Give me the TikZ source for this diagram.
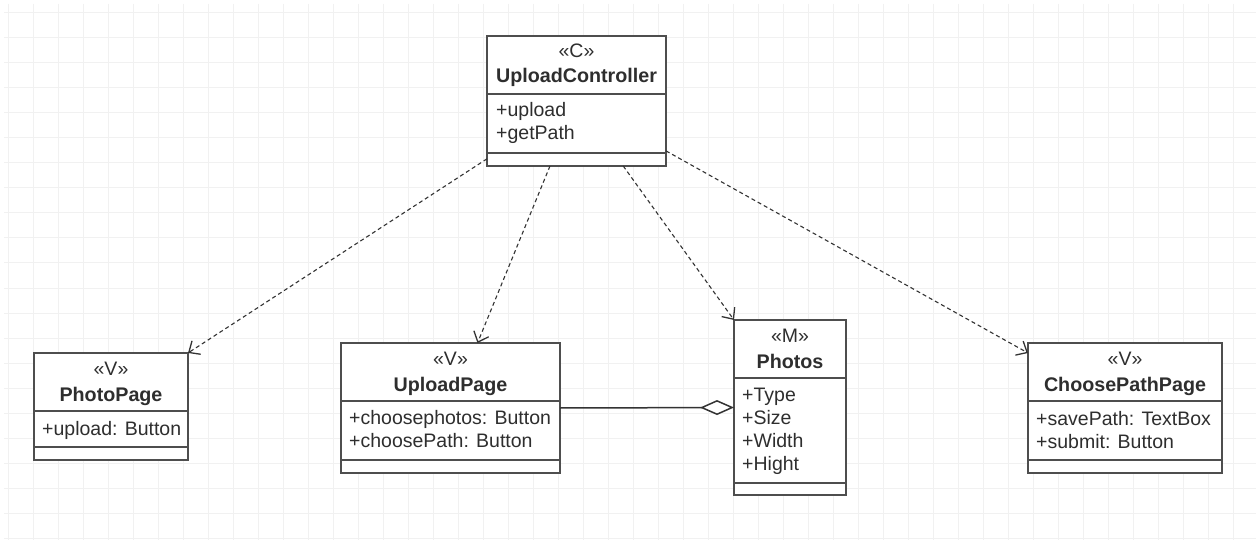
\documentclass[tikz,border=0pt]{standalone}
\usepackage{fontspec}
\setmainfont{Liberation Sans}
\usetikzlibrary{arrows.meta}
\definecolor{boxline}{HTML}{4E4E4E}
\definecolor{txt}{HTML}{2E2E2E}
\definecolor{gridc}{HTML}{F1F1F1}
\definecolor{depc}{HTML}{333333}
\tikzset{
  classbox/.style={draw=boxline, fill=white, line width=2pt, inner sep=0pt, outer sep=0pt},
  sepline/.style={draw=boxline, line width=2pt},
  stereo/.style={anchor=base, inner sep=0pt, text=txt, font=\fontsize{19.5pt}{23pt}\selectfont},
  cname/.style={anchor=base, inner sep=0pt, text=txt, font=\fontsize{19.7pt}{23pt}\selectfont\bfseries},
  attr/.style={anchor=base west, inner sep=0pt, text=txt, font=\fontsize{19.5pt}{23pt}\selectfont},
  dep/.style={draw=depc, line width=1.1pt, dash pattern=on 4pt off 3pt, -{Straight Barb[length=9pt,width=16pt,line width=1.3pt]}},
  agg/.style={draw=depc, line width=1.5pt, {Diamond[length=34pt,width=15pt,fill=white,line width=1.5pt]}-},
  gridline/.style={draw=gridc, line width=1pt}
}
\begin{document}
\begin{tikzpicture}[x=1pt,y=-1pt]
\useasboundingbox (0,0) rectangle (1256,540);
\fill[white] (0,0) rectangle (1256,540);
% grid
\foreach \gx in {8,33,...,1258} {\draw[gridline] (\gx,4) -- (\gx,540);}
\foreach \gy in {13,38,...,540} {\draw[gridline] (4,\gy) -- (1256,\gy);}

% UploadController
\node[classbox, minimum width=179pt, minimum height=130pt] (uc) at (576.5,101) {};
\draw[sepline] (487,94) -- (666,94);
\draw[sepline] (487,153) -- (666,153);
\node[stereo] (ucs) at (576.5,58) {«C»};
\node[cname] (ucn) at (576.5,83) {UploadController};
\node[attr] (uca1) at (496,117) {+upload};
\node[attr] (uca2) at (496,140) {+getPath};

% PhotoPage
\node[classbox, minimum width=154pt, minimum height=107pt] (pp) at (111,406.5) {};
\draw[sepline] (34,411) -- (188,411);
\draw[sepline] (34,447) -- (188,447);
\node[stereo] (pps) at (111,375) {«V»};
\node[cname] (ppn) at (111,401) {PhotoPage};
\node[attr] (ppa1) at (42,435) {+upload: Button};

% UploadPage
\node[classbox, minimum width=219pt, minimum height=130pt] (up) at (450.5,408) {};
\draw[sepline] (341,401) -- (560,401);
\draw[sepline] (341,460) -- (560,460);
\node[stereo] (ups) at (450.5,365) {«V»};
\node[cname] (upn) at (450.5,391) {UploadPage};
\node[attr] (upa1) at (349,424) {+choosephotos: Button};
\node[attr] (upa2) at (349,447) {+choosePath: Button};

% Photos
\node[classbox, minimum width=112pt, minimum height=175pt] (ph) at (790,407.5) {};
\draw[sepline] (734,378) -- (846,378);
\draw[sepline] (734,483) -- (846,483);
\node[stereo] (phs) at (790,342) {«M»};
\node[cname] (phn) at (790,368) {Photos};
\node[attr] (pha1) at (742,401) {+Type};
\node[attr] (pha2) at (742,424) {+Size};
\node[attr] (pha3) at (742,447) {+Width};
\node[attr] (pha4) at (742,470) {+Hight};

% ChoosePathPage
\node[classbox, minimum width=194pt, minimum height=130pt] (cp) at (1125,408) {};
\draw[sepline] (1028,401) -- (1222,401);
\draw[sepline] (1028,460) -- (1222,460);
\node[stereo] (cps) at (1125,365) {«V»};
\node[cname] (cpn) at (1125,391) {ChoosePathPage};
\node[attr] (cpa1) at (1036,425) {+savePath: TextBox};
\node[attr] (cpa2) at (1036,448) {+submit: Button};

% connectors
\coordinate (upin) at ([xshift=27pt]up.north);
\coordinate (cpin) at ([yshift=-10pt]cp.north west);
\draw[dep] (uc) -- (pp.north east);
\draw[dep] (uc) -- (upin);
\draw[dep] (uc) -- (ph.north west);
\draw[dep] (uc) -- (cpin);
\draw[agg] (ph.west) -- (up.east);
\end{tikzpicture}
\end{document}
